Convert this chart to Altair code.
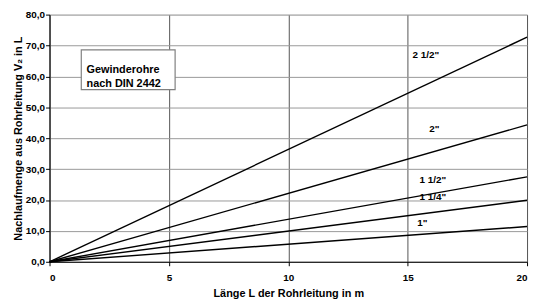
import altair as alt
import pandas as pd

sizes = ['1"', '1 1/4"', '1 1/2"', '2"', '2 1/2"']
end_values = [11.4, 19.9, 27.5, 44.3, 72.7]
length_end = 20
label_x = [15.4, 15.5, 15.5, 15.9, 15.2]
label_y = [12.4, 20.8, 26.3, 43.0, 67.0]

x_ticks = [0, 5, 10, 15, 20]
y_ticks = [0, 10, 20, 30, 40, 50, 60, 70, 80]

box_text = ["Gewinderohre", "nach DIN 2442"]

rows = []
for s, v in zip(sizes, end_values):
    rows.append({"size": s, "L": 0, "V": 0.0})
    rows.append({"size": s, "L": length_end, "V": v})
lines_df = pd.DataFrame(rows)
labels_df = pd.DataFrame({"size": sizes, "x": label_x, "y": label_y})
box_df = pd.DataFrame({"x": [1.33], "x2": [5.26], "y": [68.6], "y2": [55.7],
                       "tx": [1.55], "ty": [62.2], "t": ["\n".join(box_text)]})

FONT = "Liberation Sans"
PLOT_H = 250

xscale = alt.Scale(domain=[0, 20], nice=False)
yscale = alt.Scale(domain=[0, 80], nice=False)

x_axis = alt.Axis(title="Länge L der Rohrleitung in m", values=x_ticks,
                  format="d", gridColor="#555555", gridWidth=1, labelOverlap=False,
                  labelFont=FONT, labelFontSize=10, labelFontWeight="bold",
                  titleFont=FONT, titleFontSize=11, titleFontWeight="bold",
                  labelColor="black", titleColor="black",
                  domainColor="black", tickColor="black", tickSize=4,
                  labelPadding=7, titleX=241.5, titleY=32, titleBaseline="middle",
                  titleAlign="center")
y_axis = alt.Axis(title="Nachlaufmenge aus Rohrleitung V₂ in  L",
                  values=y_ticks, labelOverlap=False,
                  labelExpr="replace(format(datum.value, '.1f'), '.', ',')",
                  gridColor="#999999", gridWidth=1,
                  labelFont=FONT, labelFontSize=10, labelFontWeight="bold",
                  titleFont=FONT, titleFontSize=11, titleFontWeight="bold",
                  labelColor="black", titleColor="black",
                  domainColor="black", tickColor="black", tickSize=4,
                  labelPadding=1, titleX=-31, titleY=PLOT_H / 2, titleAngle=270,
                  titleBaseline="middle", titleAlign="center")

lines = alt.Chart(lines_df).mark_line(color="black", strokeWidth=1.4).encode(
    x=alt.X("L:Q", scale=xscale, axis=x_axis),
    y=alt.Y("V:Q", scale=yscale, axis=y_axis),
    detail="size:N",
)

labels = alt.Chart(labels_df).mark_text(
    font=FONT, fontSize=10, fontWeight="bold", color="black", align="left", baseline="middle"
).encode(x=alt.X("x:Q", scale=xscale, axis=x_axis),
         y=alt.Y("y:Q", scale=yscale, axis=y_axis), text="size:N")

box = alt.Chart(box_df).mark_rect(fill="white", stroke="#808080", strokeWidth=1.2).encode(
    x=alt.X("x:Q", scale=xscale, axis=x_axis), x2="x2:Q",
    y=alt.Y("y:Q", scale=yscale, axis=y_axis), y2="y2:Q"
)
box_label = alt.Chart(box_df).mark_text(
    font=FONT, fontSize=11, fontWeight="bold", color="black", align="left",
    baseline="middle", lineBreak="\n", lineHeight=15
).encode(x=alt.X("tx:Q", scale=xscale, axis=x_axis),
         y=alt.Y("ty:Q", scale=yscale, axis=y_axis), text="t:N")

chart = alt.layer(lines, labels, box, box_label).properties(
    width=483, height=PLOT_H,
    autosize=alt.AutoSizeParams(type="none"),
    padding={"left": 42, "top": 5, "right": 4, "bottom": 39},
).configure_view(stroke="black", strokeWidth=1.2).configure(background="white")

chart.save("out.html", embed_options={"renderer": "svg", "actions": False})
